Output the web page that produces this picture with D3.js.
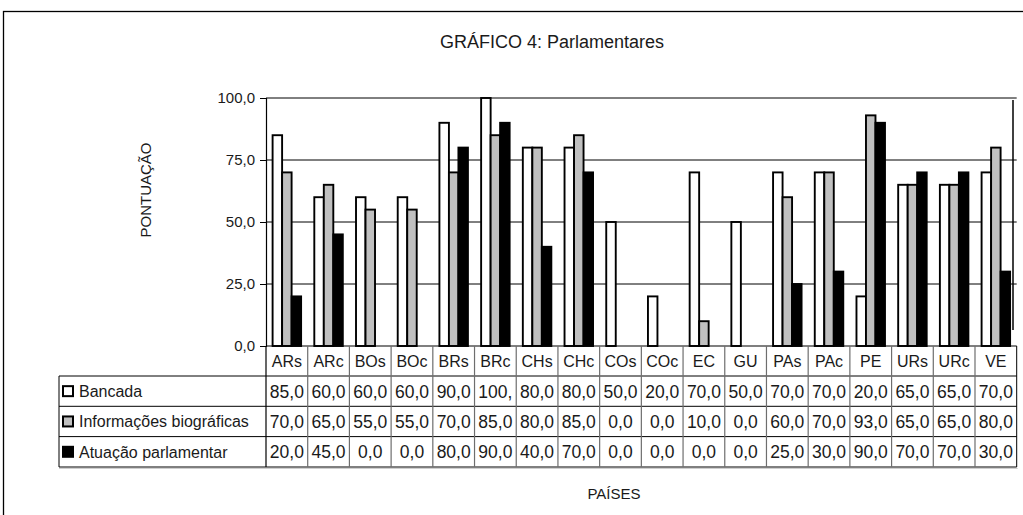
<!DOCTYPE html>
<html><head><meta charset="utf-8">
<script src="https://cdn.jsdelivr.net/npm/d3@7"></script>
<style>
body{margin:0;background:#fff}
svg{display:block}
text{font-family:"Liberation Sans",Arial,sans-serif;fill:#1a1a1a}
</style>
</head><body>
<svg id="c" width="1023" height="515"></svg>
<script>
const categories = ["ARs","ARc","BOs","BOc","BRs","BRc","CHs","CHc","COs","COc","EC","GU","PAs","PAc","PE","URs","URc","VE"];
const seriesNames = ["Bancada","Informações biográficas","Atuação parlamentar"];
const bancada     = [85,60,60,60,90,100,80,80,50,20,70,50,70,70,20,65,65,70];
const informacoes = [70,65,55,55,70,85,80,85,0,0,10,0,60,70,93,65,65,80];
const atuacao     = [20,45,0,0,80,90,40,70,0,0,0,0,25,30,90,70,70,30];
const seriesColors = ["#ffffff","#c0c0c0","#000000"];
const yTicks = [0,25,50,75,100];
const titleText = "GRÁFICO 4: Parlamentares";
const yTitleText = "PONTUAÇÃO";
const xTitleText = "PAÍSES";

const seriesValues = [bancada, informacoes, atuacao];
const svg = d3.select("#c");
const fmt = v => d3.format(".1f")(v).replace(".", ",");

const L = 266, R = 1016.7, T = 98, B = 346;
const tableLeft = 59;
const rowTops = [376, 406.3, 436.6, 467];

// outer frame
svg.append("rect").attr("x",3.5).attr("y",11.5).attr("width",1040).attr("height",530)
  .attr("fill","none").attr("stroke","#000").attr("stroke-width",1.3);

const x = d3.scaleBand().domain(categories).range([L, R]).padding(0);
const xs = d3.scaleBand().domain(seriesNames).range([6.6, x.bandwidth()-6.6]).padding(0);
const y = d3.scaleLinear().domain([0,100]).range([B, T]);

// gridlines
svg.append("g").selectAll("line").data(yTicks.filter(d=>d>0)).join("line")
  .attr("x1", L).attr("x2", R).attr("y1", d=>y(d)).attr("y2", d=>y(d))
  .attr("stroke","#000").attr("stroke-width",1);

// y axis
const yAxis = d3.axisLeft(y).tickValues(yTicks).tickFormat(fmt).tickSize(6).tickPadding(5);
const gy = svg.append("g").attr("transform",`translate(${L},0)`).call(yAxis);
gy.select(".domain").attr("stroke","#000").attr("stroke-width",1.2);
gy.selectAll(".tick line").attr("stroke","#000");
gy.selectAll(".tick text").attr("font-size",15).attr("fill","#1a1a1a")
  .style("font-family","'Liberation Sans',Arial,sans-serif");

// right artefact line
svg.append("line").attr("x1",1013).attr("x2",1013).attr("y1",100).attr("y2",330)
  .attr("stroke","#000").attr("stroke-width",1.5);

// bars
const barData = [];
categories.forEach((c,i)=>seriesNames.forEach((s,j)=>barData.push({c, s, j, v: seriesValues[j][i]})));
svg.append("g").selectAll("rect").data(barData.filter(d=>d.v>0)).join("rect")
  .attr("x", d=>x(d.c)+xs(d.s)).attr("width", xs.bandwidth())
  .attr("y", d=>y(d.v)).attr("height", d=>B - y(d.v))
  .attr("fill", d=>seriesColors[d.j]).attr("stroke","#000").attr("stroke-width",1.9);

// table grid
const tg = svg.append("g");
tg.append("line").attr("x1",L).attr("x2",R).attr("y1",B).attr("y2",B).attr("stroke","#000").attr("stroke-width",1.2);
rowTops.forEach(yy=>tg.append("line").attr("x1",tableLeft).attr("x2",R).attr("y1",yy).attr("y2",yy)
  .attr("stroke","#000").attr("stroke-width",1));
tg.selectAll("line.sep").data(categories.slice(1)).join("line").attr("class","sep")
  .attr("x1", d=>x(d)).attr("x2", d=>x(d)).attr("y1", B).attr("y2", rowTops[3])
  .attr("stroke","#6e6e6e").attr("stroke-width",1.2);
tg.append("line").attr("x1",L).attr("x2",L).attr("y1",B).attr("y2",rowTops[3]).attr("stroke","#000").attr("stroke-width",1.2);
tg.append("line").attr("x1",R).attr("x2",R).attr("y1",B).attr("y2",rowTops[3]).attr("stroke","#000").attr("stroke-width",1);
tg.append("line").attr("x1",tableLeft).attr("x2",tableLeft).attr("y1",rowTops[0]).attr("y2",rowTops[3]).attr("stroke","#000").attr("stroke-width",1);
// faint shadow under table
tg.append("line").attr("x1",tableLeft).attr("x2",R+1).attr("y1",rowTops[3]+1.5).attr("y2",rowTops[3]+1.5)
  .attr("stroke","#cfcfcf").attr("stroke-width",1.2);

// category labels
svg.append("g").selectAll("text").data(categories).join("text")
  .attr("x", d=>x(d)+x.bandwidth()/2).attr("y", (B+rowTops[0])/2 + 6)
  .attr("text-anchor","middle").attr("font-size",16).text(d=>d);

// legend rows + values
seriesNames.forEach((s,j)=>{
  const cy = (rowTops[j]+rowTops[j+1])/2;
  svg.append("rect").attr("x",63).attr("y",cy-5).attr("width",10).attr("height",10)
    .attr("fill",seriesColors[j]).attr("stroke","#000").attr("stroke-width",2);
  svg.append("text").attr("x",79).attr("y",cy+6).attr("font-size",16).text(s);
  const g = svg.append("g");
  categories.forEach((c,i)=>{
    const t = g.append("text").attr("x", x(c)+x.bandwidth()/2).attr("y", cy+6.5)
      .attr("text-anchor","middle").attr("font-size",17.5);
    let str = fmt(seriesValues[j][i]);
    t.text(str);
    while (t.node().getComputedTextLength() > x.bandwidth()-2 && str.length>1) {
      str = str.slice(0,-1); t.text(str);
    }
  });
});

// titles
svg.append("text").attr("x",552).attr("y",48).attr("text-anchor","middle").attr("font-size",18).text(titleText);
svg.append("text").attr("transform","translate(151,190) rotate(-90)").attr("text-anchor","middle").attr("font-size",15).text(yTitleText);
svg.append("text").attr("x",614).attr("y",499).attr("text-anchor","middle").attr("font-size",15).text(xTitleText);
</script>
</body></html>
